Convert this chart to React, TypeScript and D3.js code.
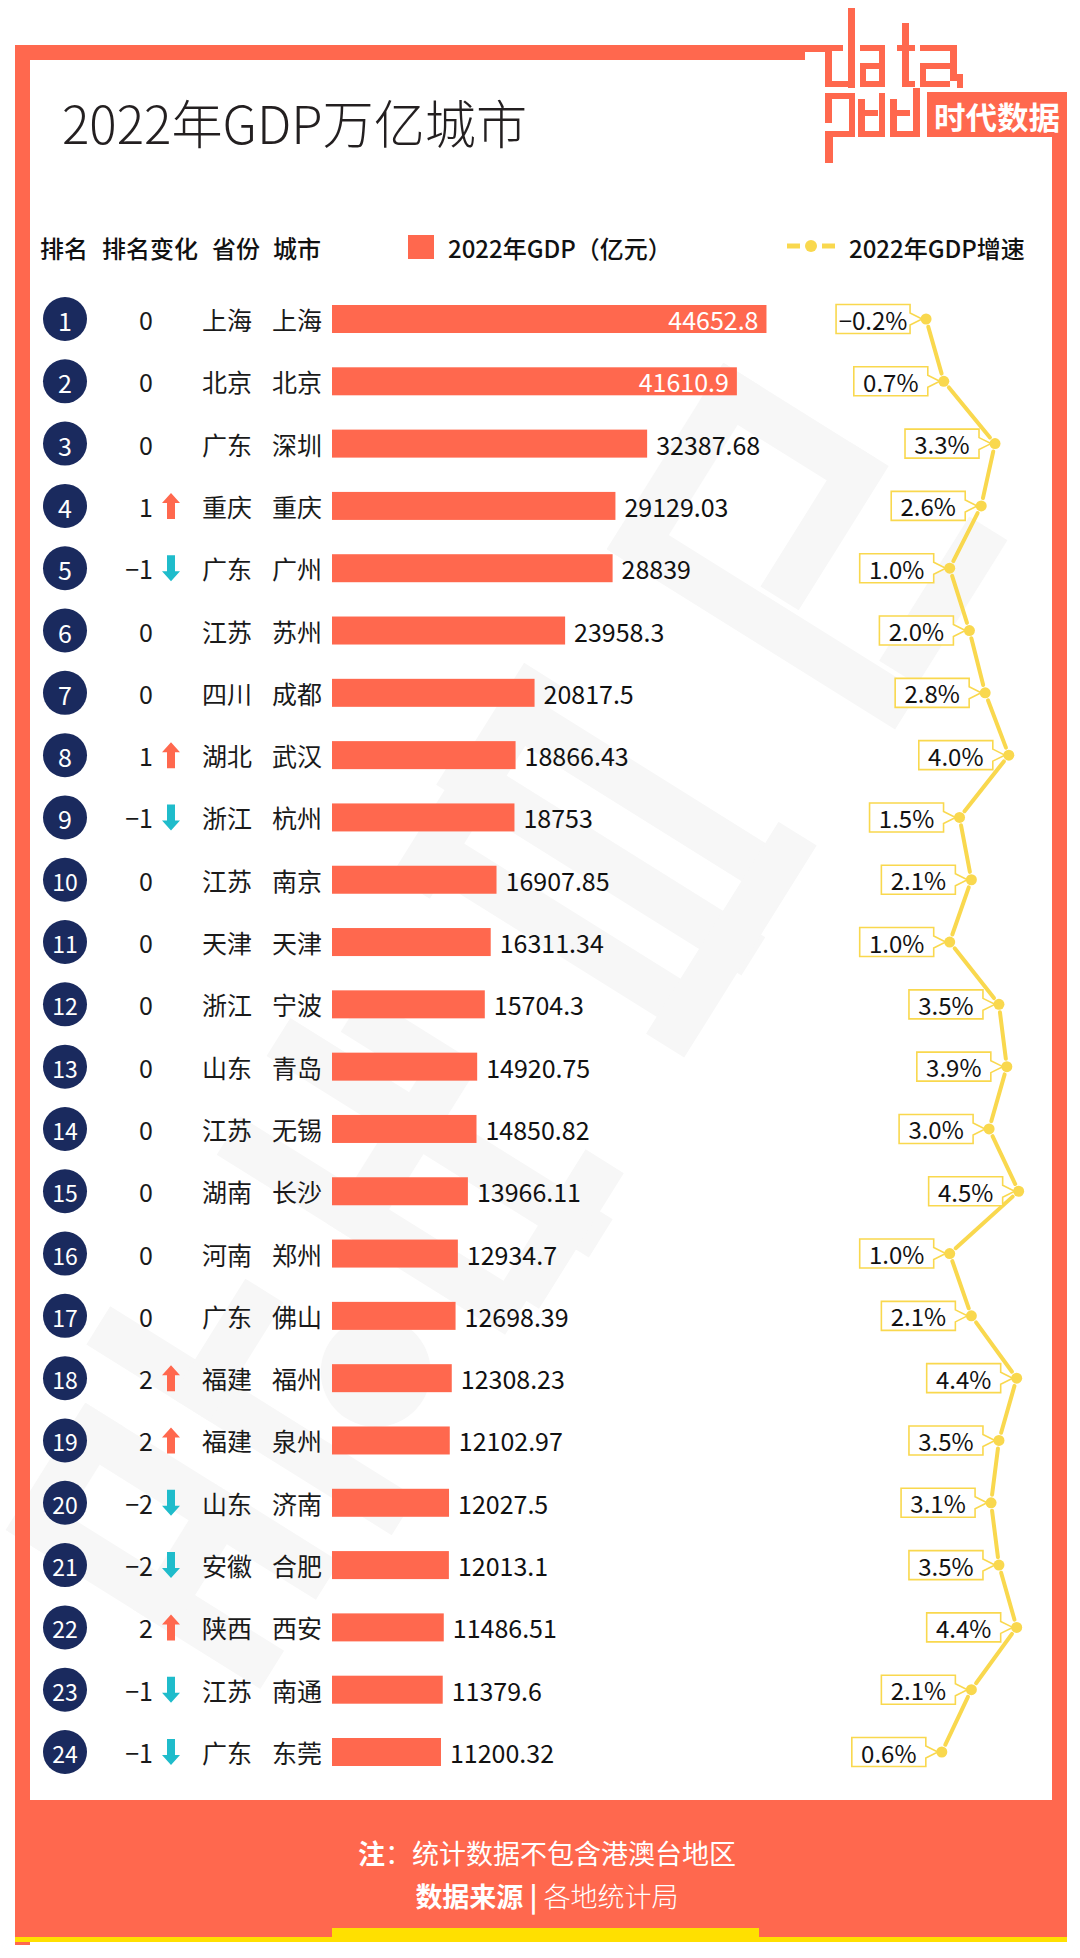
import * as React from 'react';
import * as d3 from 'd3';

const FONT = '"Noto Sans CJK SC", "Noto Sans", sans-serif';
const ORANGE = '#ff684e';
const NAVY = '#1a2a5e';
const TEAL = '#1fbccb';
const YELLOW = '#f9d84e';

// data
const ranks = [1, 2, 3, 4, 5, 6, 7, 8, 9, 10, 11, 12, 13, 14, 15, 16, 17, 18, 19, 20, 21, 22, 23, 24];
const rankChange = [0, 0, 0, 1, -1, 0, 0, 1, -1, 0, 0, 0, 0, 0, 0, 0, 0, 2, 2, -2, -2, 2, -1, -1];
const provinces = ['上海', '北京', '广东', '重庆', '广东', '江苏', '四川', '湖北', '浙江', '江苏', '天津', '浙江',
  '山东', '江苏', '湖南', '河南', '广东', '福建', '福建', '山东', '安徽', '陕西', '江苏', '广东'];
const cities = ['上海', '北京', '深圳', '重庆', '广州', '苏州', '成都', '武汉', '杭州', '南京', '天津', '宁波',
  '青岛', '无锡', '长沙', '郑州', '佛山', '福州', '泉州', '济南', '合肥', '西安', '南通', '东莞'];
const gdp = ['44652.8', '41610.9', '32387.68', '29129.03', '28839', '23958.3', '20817.5', '18866.43', '18753',
  '16907.85', '16311.34', '15704.3', '14920.75', '14850.82', '13966.11', '12934.7', '12698.39', '12308.23',
  '12102.97', '12027.5', '12013.1', '11486.51', '11379.6', '11200.32'];
const growth = [-0.2, 0.7, 3.3, 2.6, 1.0, 2.0, 2.8, 4.0, 1.5, 2.1, 1.0, 3.5, 3.9, 3.0, 4.5, 1.0, 2.1, 4.4, 3.5,
  3.1, 3.5, 4.4, 2.1, 0.6];

const headers = [
  { t: '排名', x: 40 },
  { t: '排名变化', x: 102 },
  { t: '省份', x: 212 },
  { t: '城市', x: 273 },
];

function Logo() {
  // pixel-style "data" mark + 时代数据 plate
  const r: [number, number, number, number][] = [
    [805, 45, 22, 7],
    // d
    [848, 8, 7, 80], [825, 45, 7, 42], [825, 45, 18, 6], [825, 81, 30, 6],
    // a
    [860, 45, 25, 6], [879, 45, 6, 42], [860, 63, 6, 24], [860, 63, 22, 6], [860, 81, 25, 6],
    // t
    [902, 23, 7, 64], [897, 45, 18, 6], [902, 81, 13, 6],
    // a
    [920, 45, 36, 6], [950, 45, 7, 36], [920, 63, 6, 24], [920, 63, 30, 6], [920, 81, 30, 6], [957, 74, 6, 14],
    // bottom row
    [825, 93, 30, 6], [825, 93, 7, 30], [849, 93, 6, 44], [825, 131, 30, 6], [825, 131, 8, 32],
    [858, 99, 7, 38], [858, 131, 27, 6], [879, 93, 6, 44], [858, 110, 20, 6],
    [890, 99, 7, 38], [890, 131, 30, 6], [913, 88, 7, 49], [890, 110, 20, 6],
  ];
  return (
    <g fill={ORANGE}>
      {r.map(([x, y, w, h], i) => <rect key={i} x={x} y={y} width={w} height={h} />)}
      <rect x={927} y={92} width={140} height={45} />
      <text x={997} y={115} fill="#fff" fontFamily={FONT} fontWeight={700} fontSize={31}
        textAnchor="middle" dominantBaseline="central" textLength={126} lengthAdjust="spacingAndGlyphs">时代数据</text>
    </g>
  );
}

function Watermark() {
  // faint diagonal brand mark behind the chart
  const shapes: [number, number, number, number][] = [
    // glyph 1
    [0, -170, 45, 300], [0, -170, 150, 45], [0, -20, 150, 45], [105, -170, 45, 300], [200, -200, 45, 360], [200, -100, 140, 45],
    // glyph 2
    [430, -190, 45, 340], [430, -60, 200, 45], [540, -200, 45, 380], [600, -150, 45, 120], [470, 120, 160, 45],
    // glyph 3
    [780, -180, 45, 320], [860, -200, 45, 360], [940, -180, 45, 320], [760, 110, 250, 45], [760, -190, 250, 45],
    // glyph 4
    [1150, -180, 45, 340], [1150, -180, 220, 45], [1325, -180, 45, 180], [1200, -30, 170, 45], [1200, 110, 170, 45],
  ];
  return (
    <g transform="translate(150,1620) rotate(-58)" fill="#f7f7f7">
      {shapes.map(([x, y, w, h], i) => <rect key={i} x={x} y={y} width={w} height={h} />)}
      <circle cx={330} cy={60} r={55} />
    </g>
  );
}

export default function App() {
  const y = d3.scalePoint<number>().domain(ranks).range([319, 1752]);
  const xBar = d3.scaleLinear().domain([0, 50000]).range([332, 818.5]);
  const xG = d3.scaleLinear().domain([0, 5]).range([930, 1028.5]);

  const pts = ranks.map((r, i) => [xG(growth[i]), y(r) as number] as [number, number]);
  const segs = pts.slice(1).map((p, i) => {
    const a = pts[i];
    const dx = p[0] - a[0], dy = p[1] - a[1];
    const len = Math.hypot(dx, dy);
    const g = 8;
    return [a[0] + dx * g / len, a[1] + dy * g / len, p[0] - dx * g / len, p[1] - dy * g / len];
  });

  const fmtChange = (c: number) => (c < 0 ? '−' + Math.abs(c) : String(c));
  const fmtG = (g: number) => (g < 0 ? '−' + Math.abs(g).toFixed(1) : g.toFixed(1)) + '%';

  return (
    <svg width={1080} height={1958} viewBox="0 0 1080 1958"
      style={{ position: 'absolute', left: 0, top: 0, display: 'block', background: '#fff' }}
      fontFamily={FONT}>
      <Watermark />

      {/* frame */}
      <rect x={15} y={45} width={790} height={15} fill={ORANGE} />
      <rect x={15} y={45} width={15} height={1900} fill={ORANGE} />
      <rect x={1052} y={92} width={15} height={1850} fill={ORANGE} />
      <rect x={15} y={1800} width={1052} height={137} fill={ORANGE} />
      <rect x={15} y={1937} width={1052} height={5} fill="#ffe000" />
      <rect x={332} y={1928} width={427} height={14} fill="#ffe000" />
      <Logo />

      {/* title */}
      <text x={62} y={144} fontSize={52} fontWeight={300} fill="#231f20" textLength={465}
        lengthAdjust="spacingAndGlyphs">2022年GDP万亿城市</text>

      {/* header + legend */}
      {headers.map((h) => (
        <text key={h.t} x={h.x} y={247} fontSize={24} fontWeight={500} fill="#111"
          dominantBaseline="central">{h.t}</text>
      ))}
      <rect x={408} y={235} width={26} height={24} fill={ORANGE} />
      <text x={448} y={247} fontSize={24} fontWeight={500} fill="#111" dominantBaseline="central">2022年GDP（亿元）</text>
      <line x1={787} x2={800} y1={246} y2={246} stroke={YELLOW} strokeWidth={5} />
      <line x1={822} x2={835} y1={246} y2={246} stroke={YELLOW} strokeWidth={5} />
      <circle cx={811} cy={246} r={6} fill={YELLOW} />
      <text x={849} y={247} fontSize={24} fontWeight={500} fill="#111" dominantBaseline="central">2022年GDP增速</text>

      {/* rows */}
      {ranks.map((r, i) => {
        const cy = y(r) as number;
        const v = +gdp[i];
        const end = xBar(v);
        const inside = i < 2;
        const c = rankChange[i];
        return (
          <g key={r}>
            <circle cx={65} cy={cy} r={22} fill={NAVY} />
            <text x={65} y={cy + 1} fill="#fff" fontSize={r > 9 ? 23 : 25} textAnchor="middle"
              dominantBaseline="central">{r}</text>
            <text x={153} y={cy} fill="#1a1a1a" fontSize={25} textAnchor="end"
              dominantBaseline="central">{fmtChange(c)}</text>
            {c > 0 && (
              <path d={`M${171},${cy - 13} L${180},${cy - 3} L${175},${cy - 3} L${175},${cy + 13} L${167},${cy + 13} L${167},${cy - 3} L${162},${cy - 3} Z`}
                fill={ORANGE} />
            )}
            {c < 0 && (
              <path d={`M${171},${cy + 13} L${180},${cy + 3} L${175},${cy + 3} L${175},${cy - 13} L${167},${cy - 13} L${167},${cy + 3} L${162},${cy + 3} Z`}
                fill={TEAL} />
            )}
            <text x={202} y={cy} fill="#1a1a1a" fontSize={25} dominantBaseline="central">{provinces[i]}</text>
            <text x={272} y={cy} fill="#1a1a1a" fontSize={25} dominantBaseline="central">{cities[i]}</text>
            <rect x={xBar(0)} y={cy - 14} width={end - xBar(0)} height={28} fill={ORANGE} />
            <text x={inside ? end - 8 : end + 9} y={cy} fontSize={25} fill={inside ? '#fff' : '#111'}
              textAnchor={inside ? 'end' : 'start'} dominantBaseline="central">{gdp[i]}</text>
          </g>
        );
      })}

      {/* growth line */}
      <g stroke={YELLOW} strokeWidth={4} strokeLinecap="round">
        {segs.map((s, i) => <line key={i} x1={s[0]} y1={s[1]} x2={s[2]} y2={s[3]} />)}
      </g>
      {ranks.map((r, i) => {
        const [gx, cy] = pts[i];
        const br = gx - 16, bl = br - 74, t = cy - 14.5, b = cy + 14.5;
        return (
          <g key={r}>
            <path d={`M${br},${t} L${bl},${t} L${bl},${b} L${br},${b} L${br},${cy + 6} L${gx - 4},${cy} L${br},${cy - 6} Z`}
              fill="#fff" stroke={YELLOW} strokeWidth={1.6} strokeLinejoin="miter" />
            <circle cx={gx} cy={cy} r={5.5} fill={YELLOW} />
            <text x={(bl + br) / 2} y={cy} fontSize={24} fill="#111" textAnchor="middle"
              dominantBaseline="central">{fmtG(growth[i])}</text>
          </g>
        );
      })}

      {/* footer */}
      <text x={547} y={1852} fontSize={27} fill="#fff" textAnchor="middle" dominantBaseline="central">
        <tspan fontWeight={700}>注</tspan><tspan>：统计数据不包含港澳台地区</tspan>
      </text>
      <text x={547} y={1895} fontSize={27} fill="#fff" textAnchor="middle" dominantBaseline="central">
        <tspan fontWeight={700}>数据来源</tspan><tspan fontWeight={700}> | </tspan><tspan fontWeight={300}>各地统计局</tspan>
      </text>
    </svg>
  );
}
